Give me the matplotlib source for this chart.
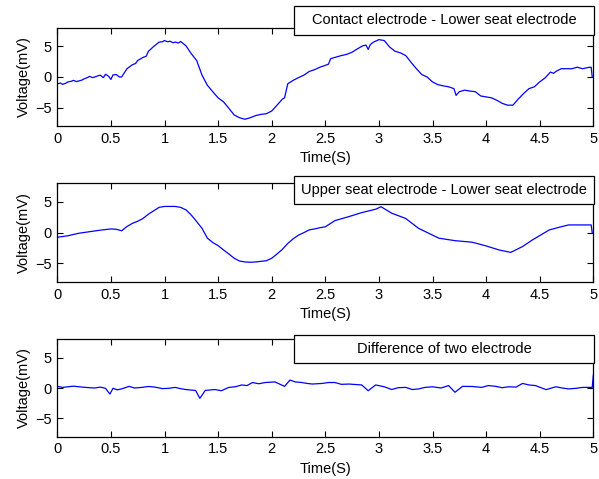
import matplotlib
matplotlib.use("Agg")
import matplotlib.pyplot as plt
from matplotlib.patches import Rectangle

plt.rcParams['font.family'] = ['Liberation Sans', 'DejaVu Sans']

# Panel 1: Contact electrode - Lower seat electrode
t1 = [0.0, 0.03, 0.05, 0.08, 0.1, 0.13, 0.15, 0.18, 0.2, 0.23, 0.25, 0.28, 0.3, 0.33, 0.35, 0.38,
      0.4, 0.43, 0.45, 0.48, 0.5, 0.52, 0.55, 0.58, 0.6,
      0.65, 0.7, 0.73, 0.75, 0.8, 0.83, 0.85, 0.9, 0.95, 0.98, 1.0, 1.03, 1.05, 1.08, 1.1, 1.13,
      1.15, 1.2, 1.25, 1.3, 1.35, 1.4,
      1.45, 1.5, 1.55, 1.6, 1.65, 1.7, 1.75, 1.8, 1.85, 1.9, 1.95, 2.0, 2.05, 2.1, 2.12, 2.15,
      2.2, 2.25, 2.3, 2.35, 2.4, 2.45, 2.5, 2.53, 2.55, 2.6, 2.65, 2.7, 2.75, 2.8, 2.85, 2.88,
      2.9, 2.92, 2.95, 3.0, 3.05, 3.1, 3.15, 3.2, 3.25, 3.3, 3.35, 3.4, 3.45, 3.5, 3.55, 3.6,
      3.65, 3.7, 3.72, 3.75, 3.8, 3.85, 3.9, 3.95, 4.0, 4.05, 4.1, 4.15, 4.2, 4.25, 4.3, 4.35,
      4.4, 4.45, 4.5, 4.55, 4.6, 4.63, 4.65, 4.7, 4.75, 4.8, 4.85, 4.9, 4.95, 4.98, 4.99]
v1 = [-1.1, -1.0, -1.2, -1.0, -0.8, -0.7, -0.55, -0.75, -0.65, -0.5, -0.3, -0.1, 0.1, -0.1, 0.0, 0.2,
      0.3, -0.1, 0.45, 0.1, -0.4, 0.35, 0.4, 0.0, 0.0,
      1.35, 2.0, 2.2, 2.7, 3.2, 3.4, 4.2, 5.0, 5.7, 5.75, 5.95, 5.75, 5.85, 5.6, 5.7, 5.55,
      5.8, 5.1, 3.8, 2.7, 0.3, -1.35,
      -2.4, -3.4, -4.05, -5.1, -6.2, -6.65, -6.9, -6.65, -6.3, -6.1, -6.0, -5.55, -4.6, -3.6, -3.4, -1.1,
      -0.55, -0.1, 0.3, 0.9, 1.2, 1.6, 1.9, 2.1, 3.0, 3.25, 3.5, 3.7, 4.05, 4.6, 5.1, 5.2,
      4.5, 5.3, 5.7, 6.1, 5.95, 4.9, 4.2, 3.95, 3.5, 2.4, 1.35, 0.4, 0.0, -0.8, -1.25, -1.45,
      -1.6, -1.9, -3.0, -2.4, -2.15, -2.3, -2.4, -3.1, -3.25, -3.4, -3.8, -4.3, -4.6, -4.6, -3.6, -2.7,
      -1.9, -1.6, -0.8, -0.15, 0.8, 0.6, 0.9, 1.35, 1.35, 1.35, 1.6, 1.35, 1.55, 1.6, 0.0]

# Panel 2: Upper seat electrode - Lower seat electrode
t2 = [0.0, 0.1, 0.2, 0.3, 0.4, 0.5, 0.55, 0.6, 0.65, 0.7, 0.75, 0.8, 0.85, 0.9, 0.95, 1.0,
      1.1, 1.15, 1.2, 1.25, 1.3, 1.35, 1.4, 1.45, 1.5, 1.55, 1.6, 1.65, 1.7, 1.75, 1.8, 1.85,
      1.9, 1.95, 2.0, 2.05, 2.1, 2.15, 2.2, 2.25, 2.3, 2.35, 2.4, 2.45, 2.5, 2.59, 2.72, 2.84,
      2.97, 3.02, 3.12, 3.25, 3.37, 3.56, 3.71, 3.87, 4.0, 4.12, 4.23, 4.34, 4.43, 4.59, 4.71,
      4.77, 4.98, 4.99]
v2 = [-0.75, -0.5, -0.1, 0.15, 0.4, 0.6, 0.55, 0.3, 1.0, 1.5, 1.85, 2.3, 3.0, 3.55, 4.1, 4.25,
      4.25, 4.1, 3.7, 2.85, 1.8, 0.7, -0.9, -1.6, -2.1, -2.8, -3.45, -4.15, -4.6, -4.75, -4.8, -4.75,
      -4.65, -4.55, -4.15, -3.45, -2.7, -1.75, -1.0, -0.4, 0.0, 0.45, 0.6, 0.8, 0.95, 1.95, 2.6, 3.25,
      3.8, 4.2, 3.15, 2.3, 0.7, -0.9, -1.3, -1.55, -2.15, -2.8, -3.2, -2.25, -1.2, 0.45, 1.0,
      1.25, 1.25, 0.0]

# Panel 3: Difference of two electrode
t3 = [0.0, 0.05, 0.1, 0.15, 0.23, 0.3, 0.35, 0.4, 0.45, 0.49, 0.52, 0.56, 0.6, 0.67, 0.72, 0.79,
      0.85, 0.91, 0.98, 1.04, 1.1, 1.16, 1.22, 1.29, 1.33,
      1.38, 1.47, 1.53, 1.6, 1.66, 1.72, 1.77, 1.82, 1.88, 1.94, 2.03, 2.12, 2.17, 2.22, 2.28,
      2.33, 2.38, 2.47, 2.53, 2.59, 2.65, 2.72, 2.84,
      2.9, 2.97, 3.05, 3.12, 3.18, 3.25, 3.31, 3.37, 3.43, 3.5, 3.58, 3.65, 3.71, 3.78, 3.87,
      3.96, 4.02, 4.09, 4.15, 4.21, 4.28, 4.34, 4.4, 4.46, 4.56,
      4.65, 4.71, 4.77, 4.84, 4.9, 4.99, 5.0]
v3 = [0.27, 0.1, 0.2, 0.3, 0.15, 0.05, 0.0, 0.15, -0.05, -1.0, -0.05, -0.3, -0.15, 0.27, 0.0, 0.1,
      0.25, 0.15, -0.1, -0.05, 0.1, -0.15, -0.3, -0.4, -1.7,
      -0.4, -0.25, -0.45, 0.1, 0.2, 0.5, 0.4, 0.9, 0.7, 0.9, 1.0, 0.27, 1.3, 1.0, 0.9,
      0.75, 0.65, 0.75, 0.9, 0.9, 0.6, 0.65, 0.5,
      -0.45, 0.5, 0.2, -0.25, 0.05, 0.1, -0.25, -0.15, 0.1, 0.2, 0.0, 0.4, -0.7, 0.27, 0.25,
      0.1, 0.4, 0.27, 0.05, 0.2, 0.15, 0.75, 0.5, 0.4, -0.27,
      0.2, 0.0, -0.15, -0.05, 0.1, 0.1, 2.1]

labels = ["Contact electrode - Lower seat electrode",
          "Upper seat electrode - Lower seat electrode",
          "Difference of two electrode"]
xticks = [0, 0.5, 1, 1.5, 2, 2.5, 3, 3.5, 4, 4.5, 5]
xticklabels = ["0", "0.5", "1", "1.5", "2", "2.5", "3", "3.5", "4", "4.5", "5"]
yticks = [-5, 0, 5]

W, H = 599, 479
fig = plt.figure(figsize=(W / 100, H / 100), dpi=100)
FS = 10.5

left_px, right_px = 57.3, 593.3
axes_px = [(28, 126), (183.3, 282), (339.3, 436.7)]
box_px = [(6, 35), (176, 204), (335, 363)]
box_x = (294, 594)

series = [(t1, v1), (t2, v2), (t3, v3)]
for i, ((top, bot), (t, v)) in enumerate(zip(axes_px, series)):
    ax = fig.add_axes([left_px / W, 1 - bot / H, (right_px - left_px) / W, (bot - top) / H])
    ax.plot(t, v, color='#0000ff', lw=0.9)
    ax.set_xlim(0, 5)
    ax.set_ylim(-8, 8)
    ax.set_xticks(xticks)
    ax.set_xticklabels(xticklabels)
    ax.set_yticks(yticks)
    ax.tick_params(direction='in', top=True, right=True, length=4, width=0.8,
                   labelsize=FS, pad=4)
    for s in ax.spines.values():
        s.set_linewidth(0.9)
    ax.set_xlabel("Time(S)", fontsize=FS, labelpad=4)
    ax.set_ylabel("Voltage(mV)", fontsize=FS, labelpad=3)

    btop, bbot = box_px[i]
    ah = bot - top
    aw = right_px - left_px
    x0 = (box_x[0] - left_px) / aw
    x1 = (box_x[1] - left_px) / aw
    y0 = (bot - bbot) / ah
    y1 = (bot - btop) / ah
    rect = Rectangle((x0, y0), x1 - x0, y1 - y0, transform=ax.transAxes,
                     facecolor='white', edgecolor='black', lw=0.9, clip_on=False, zorder=5)
    ax.add_patch(rect)
    ax.text((x0 + x1) / 2, (y0 + y1) / 2, labels[i], transform=ax.transAxes,
            ha='center', va='center', fontsize=FS, zorder=6)

fig.savefig("out.png", dpi=100)
